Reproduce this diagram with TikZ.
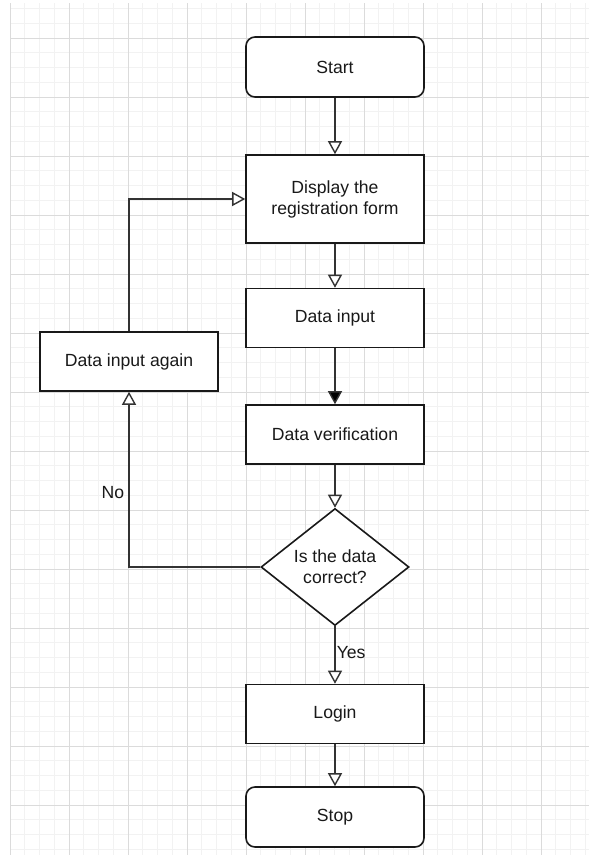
\documentclass[tikz,border=0pt]{standalone}
\usepackage{fontspec}
\setmainfont{Liberation Sans}
\usetikzlibrary{arrows.meta,shapes.geometric}
\tikzset{
  box/.style={draw=black!90, line width=1.6pt, fill=white, minimum width=178pt, minimum height=59pt, inner sep=0pt, align=center, font=\fontsize{17.6}{21}\selectfont, text=black!90},
  term/.style={box, rounded corners=9pt, minimum height=60pt},
  decision/.style={box, diamond, minimum width=148pt, minimum height=117pt, aspect=1.265},
  arr/.style={draw=black!80, line width=1.6pt, -{Triangle[length=13pt,width=14pt,fill=white,line width=1.4pt]}},
  arrfill/.style={draw=black!80, line width=1.6pt, -{Triangle[length=13pt,width=14pt,fill=black,line width=1.4pt]}},
  lbl/.style={font=\fontsize{17.6}{21}\selectfont, text=black!90, inner sep=0pt},
  minorgrid/.style={draw=black!5, line width=1pt},
  majorgrid/.style={draw=black!14, line width=1pt}
}
\begin{document}
\begin{tikzpicture}[x=1pt,y=-1pt]
\useasboundingbox[fill=white] (0,0) rectangle (589,855);
% grid
\begin{scope}
\clip (10,3) rectangle (589,855);
\foreach \i in {0,...,40} {
  \draw[minorgrid] (10+14.75*\i,0) -- (10+14.75*\i,855);
}
\foreach \j in {-3,...,56} {
  \draw[minorgrid] (0,38+14.75*\j) -- (589,38+14.75*\j);
}
\foreach \i in {0,...,10} {
  \draw[majorgrid] (10+59*\i,0) -- (10+59*\i,855);
}
\foreach \j in {-1,...,14} {
  \draw[majorgrid] (0,38+59*\j) -- (589,38+59*\j);
}
\end{scope}
% nodes
\node[term] (start) at (335,67) {Start};
\node[box, minimum height=88pt] (disp) at (335,199) {Display the\\registration form};
\node[box] (input) at (335,318) {Data input};
\node[box] (again) at (129,361.5) {Data input again};
\node[box] (verify) at (335,434.5) {Data verification};
\node[decision] (dec) at (335,567) {Is the data\\correct?};
\node[box] (login) at (335,714) {Login};
\node[term] (stop) at (335,817) {Stop};
% connectors
\draw[arr] (start) -- (disp);
\draw[arr] (disp) -- (input);
\draw[arrfill] (input) -- (verify);
\draw[arr] (verify) -- (dec);
\draw[arr] (dec.south) -- node[lbl, pos=0.45, right=1pt] {Yes} (login.north);
\draw[arr] (login) -- (stop);
\draw[arr] (dec.west) -| node[lbl, pos=0.713, left=4pt] {No} (again.south);
\draw[arr] (again.north) |- (disp.west);
\end{tikzpicture}
\end{document}
